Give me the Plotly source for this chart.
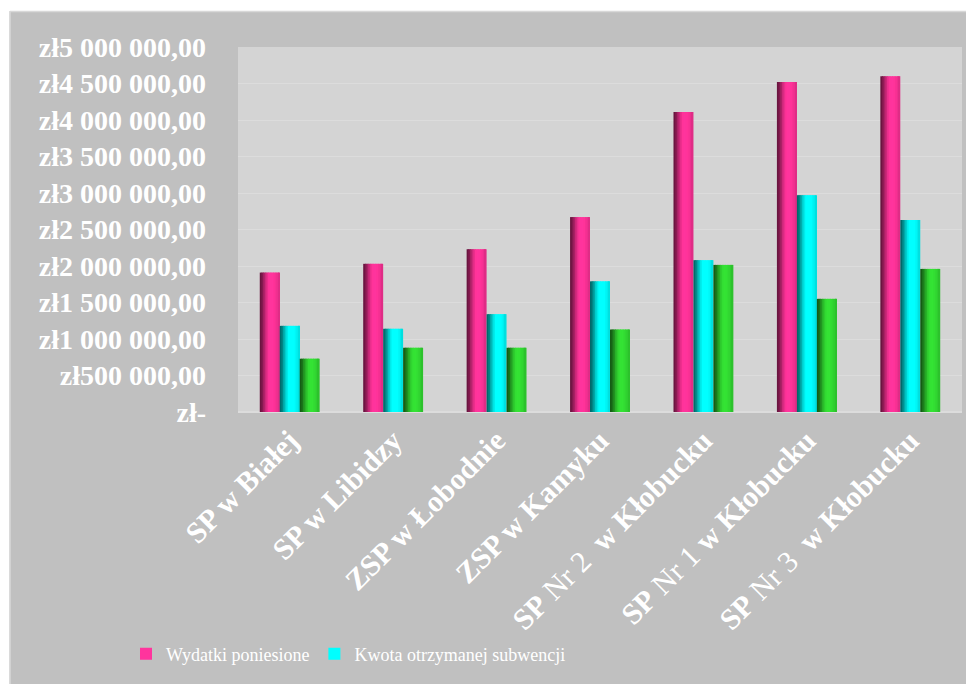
import plotly.graph_objects as go

categories = ["SP w Białej", "SP w Libidzy", "ZSP w Łobodnie", "ZSP w Kamyku",
              "SP Nr 2  w Kłobucku", "SP Nr 1 w Kłobucku", "SP Nr 3  w Kłobucku"]
tick_labels_x = ["<b>SP w Białej</b>", "<b>SP w Libidzy</b>", "<b>ZSP w Łobodnie</b>",
                 "<b>ZSP w Kamyku</b>", "<b>SP</b> Nr 2 <b> w Kłobucku</b>",
                 "<b>SP</b> Nr 1 <b>w Kłobucku</b>", "<b>SP</b> Nr 3 <b> w Kłobucku</b>"]
wydatki = [1910000, 2030000, 2230000, 2670000, 4110000, 4520000, 4600000]
subwencja = [1180000, 1140000, 1340000, 1790000, 2080000, 2970000, 2630000]
trzecia = [730000, 880000, 880000, 1130000, 2015000, 1550000, 1960000]
series_names = ["Wydatki poniesione", "Kwota otrzymanej subwencji", "Seria 3"]

y_tickvals = [0, 500000, 1000000, 1500000, 2000000, 2500000, 3000000,
              3500000, 4000000, 4500000, 5000000]
y_ticktext = ["zł-", "zł500 000,00", "zł1 000 000,00", "zł1 500 000,00",
              "zł2 000 000,00", "zł2 500 000,00", "zł3 000 000,00",
              "zł3 500 000,00", "zł4 000 000,00", "zł4 500 000,00",
              "zł5 000 000,00"]

base_colors = [(255, 51, 153), (0, 255, 255), (51, 221, 51)]
show_legend = [True, True, False]
profile = [0.42, 0.52, 0.66, 0.8, 0.92, 1.0, 1.03, 1.03, 1.0, 0.97, 0.93, 0.88]

x_idx = list(range(len(categories)))
bar_w = 0.193
n = len(profile)
sw = bar_w / n

fig = go.Figure()
data = [wydatki, subwencja, trzecia]
for s, vals in enumerate(data):
    r, g, b = base_colors[s]
    base_off = -1.5 * bar_w + s * bar_w
    for i, f in enumerate(profile):
        col = f"rgb({min(255,int(r*f))},{min(255,int(g*f))},{min(255,int(b*f))})"
        w = sw * (1.6 if i < n - 1 else 1.0)
        fig.add_trace(go.Bar(
            x=x_idx, y=vals, width=w, offset=base_off + i * sw,
            marker=dict(color=col, line=dict(width=0)),
            name=series_names[s], legendgroup=series_names[s],
            showlegend=(show_legend[s] and i == 6),
            hoverinfo="skip" if i != 6 else None,
        ))

OFF = 8  # page body margin
W, H = 974 - OFF, 684 - OFF
L, R, T, B = 238 - OFF, 974 - 962, 47 - OFF, 684 - 416
pw, ph = W - L - R, H - T - B


def px(page_x):
    return (page_x - OFF - L) / pw


def py(page_y):
    return (H - B - (page_y - OFF)) / ph


fig.update_layout(
    width=W, height=H,
    margin=dict(l=L, r=R, t=T, b=B, pad=0),
    barmode="overlay",
    paper_bgcolor="#c0c0c0",
    plot_bgcolor="#d4d4d4",
    font=dict(family="Liberation Serif, Times New Roman, serif", color="white"),
    showlegend=True,
    legend=dict(orientation="h", x=px(126), y=py(642), xanchor="left", yanchor="top",
                font=dict(size=18, color="white",
                          family="Liberation Serif, Times New Roman, serif"),
                entrywidth=0,
                bgcolor="rgba(0,0,0,0)", itemwidth=30),
    xaxis=dict(range=[-0.5, len(categories) - 0.5], tickmode="array",
               tickvals=x_idx, ticktext=tick_labels_x, tickangle=-45,
               tickfont=dict(size=30, color="white"),
               showgrid=False, zeroline=False, showline=False, ticks="",
               ticklabelstandoff=4),
    yaxis=dict(range=[0, 5000000], tickmode="array", tickvals=y_tickvals,
               ticktext=y_ticktext,
               tickfont=dict(size=28, color="white",
                             family="Liberation Serif, Times New Roman, serif",
                             weight="bold"),
               showgrid=True, gridcolor="#dcdcdc", gridwidth=1,
               zeroline=True, zerolinecolor="#dcdcdc", showline=False,
               ticks="", ticklabelstandoff=31),
    shapes=[
        dict(type="rect", xref="paper", yref="paper", x0=px(0), x1=px(990),
             y0=py(0), y1=py(10.5), fillcolor="white", line=dict(width=0)),
        dict(type="rect", xref="paper", yref="paper", x0=px(0), x1=px(9.5),
             y0=py(700), y1=py(0), fillcolor="white", line=dict(width=0)),
        dict(type="line", xref="paper", yref="paper", x0=px(10), x1=px(990),
             y0=py(11), y1=py(11), line=dict(color="#d8d8d8", width=1.5)),
        dict(type="line", xref="paper", yref="paper", x0=px(10), x1=px(10),
             y0=py(11), y1=py(700), line=dict(color="#d8d8d8", width=1.5)),
    ],
)

fig.write_html("out.html")
